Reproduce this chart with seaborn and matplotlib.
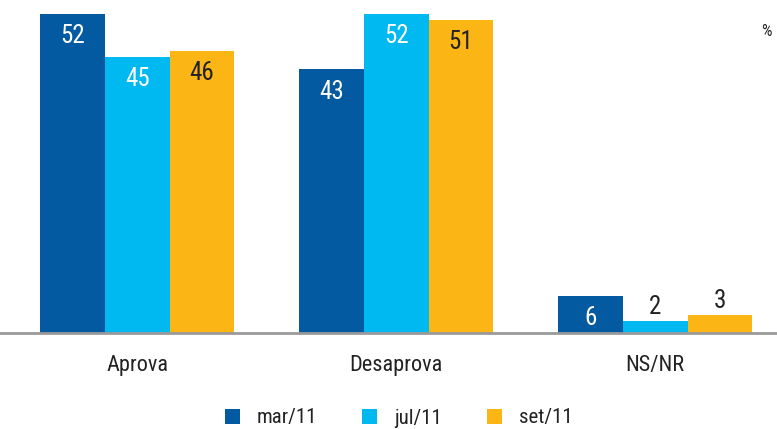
import matplotlib
matplotlib.use("Agg")
import matplotlib.pyplot as plt
from matplotlib.patches import Patch
import seaborn as sns
import pandas as pd

categories = ["Aprova", "Desaprova", "NS/NR"]
periods = ["mar/11", "jul/11", "set/11"]
mar11 = [52, 43, 6]
jul11 = [45, 52, 2]
set11 = [46, 51, 3]
colors = ["#035aa0", "#00b9f0", "#fbb515"]
label_colors = ["white", "white", "#222222"]

rows = []
for period, vals in zip(periods, [mar11, jul11, set11]):
    for cat, v in zip(categories, vals):
        rows.append({"categoria": cat, "periodo": period, "valor": v})
df = pd.DataFrame(rows)

sns.set_theme(style="white")
plt.rcParams["font.family"] = ["Roboto Condensed", "Roboto", "DejaVu Sans"]

fig = plt.figure(figsize=(7.77, 4.29), dpi=100)
ax = fig.add_axes([0.0, 0.2238, 1.0, 0.7762])

sns.barplot(data=df, x="categoria", y="valor", hue="periodo",
            order=categories, hue_order=periods, palette=colors,
            width=0.75, saturation=1, errorbar=None, linewidth=0,
            ax=ax, legend=False)

ax.set_xlim(-0.53, 2.47)
ax.set_ylim(0, 54.3)

for container, lc in zip(ax.containers, label_colors):
    for bar in container:
        h = bar.get_height()
        xc = bar.get_x() + bar.get_width() / 2
        if h < 5:
            ax.annotate(f"{h:.0f}", (xc, h), xytext=(0, 10), textcoords="offset points",
                        ha="center", va="center", fontsize=18, color="#222222")
        else:
            ax.annotate(f"{h:.0f}", (xc, h), xytext=(0, -16), textcoords="offset points",
                        ha="center", va="center", fontsize=18, color=lc)

for s in ["top", "left", "right"]:
    ax.spines[s].set_visible(False)
ax.spines["bottom"].set_color("#9a9a9a")
ax.spines["bottom"].set_linewidth(2)
ax.set_yticks([])
ax.set_xlabel("")
ax.set_ylabel("")
ax.tick_params(axis="x", length=0, pad=16, labelsize=16, labelcolor="#222222")

handles = [Patch(facecolor=c, edgecolor="none", label=p) for c, p in zip(colors, periods)]
fig.legend(handles=handles, loc="center", bbox_to_anchor=(0.513, 1 - 418 / 429),
           ncol=3, frameon=False, fontsize=15, handlelength=0.7, handleheight=0.7,
           handletextpad=0.8, columnspacing=2.2, labelcolor="#222222")

fig.text(0.993, 1 - 31 / 429, "%", ha="right", va="center", fontsize=12, color="#222222")

fig.savefig("out.png", dpi=100)
